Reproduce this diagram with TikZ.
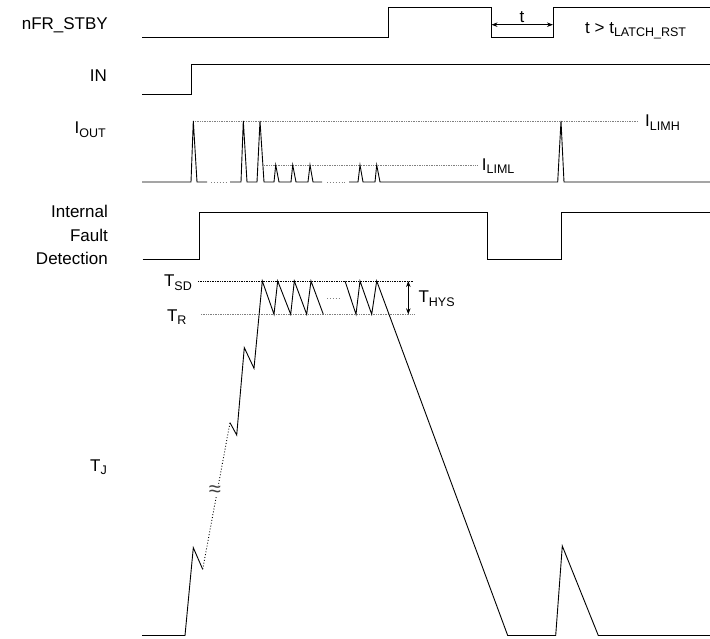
\documentclass[tikz,border=0pt]{standalone}
\usepackage{fontspec}
\setmainfont{Liberation Sans}
\usetikzlibrary{arrows.meta}
\newcommand{\subtxt}[2]{#1\raisebox{-0.35ex}{\fontsize{12.5}{12.5}\selectfont #2}}

\begin{document}
\begin{tikzpicture}[x=1pt, y=-1pt,
    sig/.style={line width=0.9pt, line join=miter},
    lvl/.style={densely dotted, line width=0.7pt, gray},
    gap/.style={dotted, line width=0.9pt, gray},
    lab/.style={font=\fontsize{17}{20}\selectfont, inner sep=0pt},
    dim/.style={{Stealth[length=6pt,width=4.5pt]}-{Stealth[length=6pt,width=4.5pt]}, line width=0.8pt}]
    \useasboundingbox (0,0) rectangle (710,639);
    % signal names
    \node[lab, anchor=base east] (nfr) at (108,29.5) {nFR\_STBY};
    \node[lab, anchor=base east] (in) at (107,81.5) {IN};
    \node[lab, anchor=base east] (iout) at (106,134) {\subtxt{I}{OUT}};
    \foreach \txt/\yy in {Internal/218, Fault/241.5, Detection/264.5}
        \node[lab, anchor=base east] at (108,\yy) {\txt};
    \node[lab, anchor=base east] (tj) at (107,471) {\subtxt{T}{J}};
    % nFR_STBY
    \draw[sig] (142,37.5) -- (388,37.5) -- (388,7.5) -- (491.5,7.5) -- (491.5,37.5) -- (553,37.5) -- (553,7.5) -- (710,7.5);
    \coordinate (tl) at (491.5,24.7);
    \coordinate (tr) at (553,24.7);
    \draw[dim] (tl) -- (tr);
    \node[lab, anchor=base] (tlab) at (522,22.5) {t};
    \node[lab, anchor=base west] (latch) at (585,33.3) {\subtxt{t > t}{LATCH\_RST}};
    % IN
    \draw[sig] (142,94.5) -- (191,94.5) -- (191,64) -- (710,64);
    % I_OUT
    \draw[lvl] (193.3,121) -- (638,121);
    \draw[lvl] (264,165) -- (478,165);
    \node[lab, anchor=base west] (limh) at (645,127) {\subtxt{I}{LIMH}};
    \node[lab, anchor=base west] (liml) at (481.7,170.7) {\subtxt{I}{LIML}};
    \draw[sig] (142,182) -- (191,182) -- (193.3,121) -- (197,182) -- (207,182);
    \draw[gap] (211,182) -- (227,182);
    \draw[sig] (230,182) -- (241,182) -- (243.3,121) -- (247,182) -- (257,182) -- (260,121) -- (264,182)
        -- (274,182) -- (275.7,165) -- (279,182) -- (291,182) -- (292.7,165) -- (296,182)
        -- (308,182) -- (310,165) -- (313,182) -- (322,182);
    \draw[gap] (327,182) -- (345,182);
    \draw[sig] (349,182) -- (358,182) -- (360,165) -- (363,182) -- (375,182) -- (376.7,165) -- (380,182)
        -- (557.7,182) -- (561,121) -- (564,182) -- (710,182);
    % Internal Fault Detection
    \draw[sig] (142.7,259) -- (199,259) -- (199,212) -- (487,212) -- (487,259) -- (561,259) -- (561,212) -- (710,212);
    % T_J
    \draw[lvl, black] (198,281) -- (413,281);
    \draw[lvl] (201,314.3) -- (415,314.3);
    \node[lab, anchor=base east] (tsd) at (192,287) {\subtxt{T}{SD}};
    \node[lab, anchor=base east] (tre) at (186.7,321.7) {\subtxt{T}{R}};
    \coordinate (hyst) at (408.3,281);
    \coordinate (hysb) at (408.3,314.3);
    \draw[dim] (hyst) -- (hysb);
    \node[lab, anchor=base west] (thys) at (418.3,303) {\subtxt{T}{HYS}};
    \draw[sig] (142,635.5) -- (185,635.5) -- (193.3,547.7) -- (202.7,569.3);
    \draw[gap, black] (202.7,569.3) -- (230,422.7);
    \node[fill=white, inner sep=0pt, text=darkgray, font=\fontsize{22}{22}\selectfont] (brk) at (215,491) {≈};
    \draw[sig] (230,422.7) -- (236.7,435) -- (244.3,347.7) -- (254,368.3) -- (262.3,281) -- (274,314.3)
        -- (277.7,281) -- (290.7,314.3) -- (294.3,281) -- (306.7,314.3) -- (311,281) -- (323.3,314.3);
    \draw[gap] (327,298) -- (341,298);
    \draw[sig] (345,281) -- (356,314.3) -- (360,281) -- (371.7,314.3) -- (376.7,281) -- (507.7,635.5)
        -- (555.7,635.5) -- (562.3,546) -- (598.3,635.5) -- (710,635.5);
\end{tikzpicture}
\end{document}
